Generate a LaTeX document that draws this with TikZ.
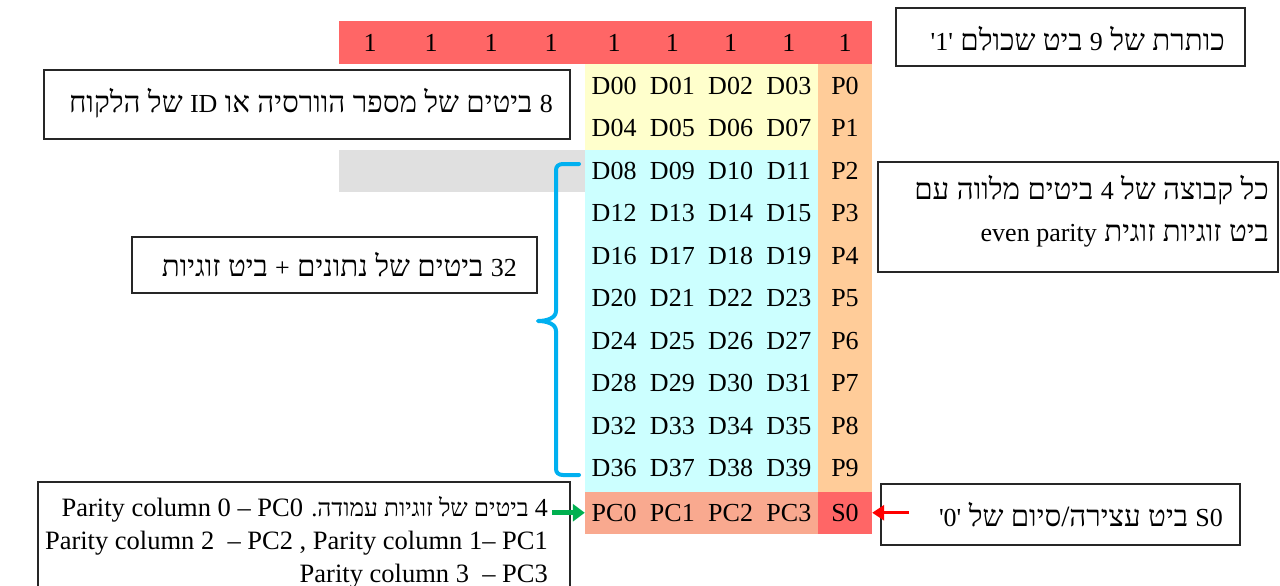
\documentclass[tikz,border=0pt]{standalone}
\usepackage{fontspec}
\setmainfont{Liberation Serif}
\newfontfamily\heb[Script=Hebrew]{Liberation Serif}
\newfontfamily\latf{Liberation Serif}
\TeXXeTstate=1
\usetikzlibrary{arrows.meta}
\definecolor{hdrred}{HTML}{FF6666}
\definecolor{yel}{HTML}{FFFFCC}
\definecolor{cyn}{HTML}{CCFFFF}
\definecolor{org}{HTML}{FFCC99}
\definecolor{gry}{HTML}{E0E0E0}
\definecolor{pcc}{HTML}{F9A98F}
\definecolor{brc}{HTML}{00B0F0}
\definecolor{grn}{HTML}{00B050}
\newcommand\lat[1]{\beginL{\latf\fontsize{26}{30}\selectfont #1}\endL}
\newcommand\hebt{\heb\fontsize{29.5}{34}\selectfont}
\tikzset{
  txt/.style={inner sep=0pt, font=\fontsize{26}{30}\selectfont},
  cell/.style={inner sep=0pt, minimum width=58.25pt, minimum height=42.5pt, font=\fontsize{26}{30}\selectfont},
  box/.style={draw=black!85, line width=1.3pt, fill=white, inner sep=0pt},
  brace/.style={draw=brc, line width=4pt, line cap=round, line join=round},
  redarrow/.style={draw=red, line width=3pt, -{Triangle[length=12pt,width=15pt]}},
  grnarrow/.style={draw=grn, line width=5pt, -{Triangle[length=12pt,width=17pt]}},
}
\begin{document}
\begin{tikzpicture}[x=1pt,y=-1pt]
\useasboundingbox (0,0) rectangle (1280,586);
\clip (0,0) rectangle (1280,586);
% backgrounds
\fill[hdrred] (339,21) rectangle (872,64.5);
\fill[yel] (585,64.5) rectangle (818,149.5);
\fill[cyn] (585,149.5) rectangle (818,491.5);
\fill[org] (818,64.5) rectangle (872,491.5);
\fill[gry] (339,149.5) rectangle (585,192);
\fill[pcc] (585,491.5) rectangle (818,534);
\fill[hdrred] (818,491.5) rectangle (872,534);
% header ones
\foreach \x [count=\i] in {370,431,491,551,614.125,672.375,730.625,788.875,845}
  \node[cell, minimum width=54pt] (h\i) at (\x,42.75) {1};
% data rows
\foreach \a/\b/\c/\d [count=\i from 0] in {00/01/02/03,04/05/06/07,08/09/10/11,12/13/14/15,16/17/18/19,20/21/22/23,24/25/26/27,28/29/30/31,32/33/34/35,36/37/38/39}{
  \node[cell] (d\a) at (614.125,85.75+42.5*\i) {D\a};
  \node[cell] (d\b) at (672.375,85.75+42.5*\i) {D\b};
  \node[cell] (d\c) at (730.625,85.75+42.5*\i) {D\c};
  \node[cell] (d\d) at (788.875,85.75+42.5*\i) {D\d};
  \node[cell, minimum width=54pt] (p\i) at (845,85.75+42.5*\i) {P\i};
}
\foreach \k in {0,1,2,3}
  \node[cell] (pc\k) at (614.125+58.25*\k,512.75) {PC\k};
\node[cell, minimum width=54pt] (s0) at (845,512.75) {S0};
% brace
\coordinate (bt) at (579,164);
\coordinate (bb) at (579,475);
\draw[brace] (bt) -- (563,164) .. controls (559,164) and (556,166) .. (556,170) -- (556,311)
  .. controls (556,318) and (547,321) .. (538,321) .. controls (547,321) and (556,324) .. (556,331)
  -- (556,469) .. controls (556,473) and (559,475) .. (563,475) -- (bb);
% boxes
\node[box, minimum width=349pt, minimum height=58pt] (hdrbox) at (1070.5,37) {};
\node[box, minimum width=526pt, minimum height=69pt] (idbox) at (307,104.5) {};
\node[box, minimum width=400pt, minimum height=110pt] (parbox) at (1078,217) {};
\node[box, minimum width=405pt, minimum height=56pt] (databox) at (334.5,265) {};
\node[box, minimum width=532pt, minimum height=118pt] (pcbox) at (304,541) {};
\node[box, minimum width=359pt, minimum height=61pt] (s0box) at (1060.5,514.5) {};
% texts
\node[txt, anchor=base east] (thdr) at (1225,51) {\hebt\beginR כותרת של \lat{9} ביט שכולם \lat{'1'}\endR};
\node[txt, anchor=base east] (tid) at (553,112) {\hebt\beginR \lat{8} ביטים של מספר הוורסיה או \lat{ID} של הלקוח\endR};
\node[txt, anchor=base east] (tpar1) at (1269,199) {\hebt\beginR כל קבוצה של \lat{4} ביטים מלווה עם\endR};
\node[txt, anchor=base east] (tpar2) at (1269,241) {\hebt\beginR ביט זוגיות זוגית \lat{even parity}\endR};
\node[txt, anchor=base east] (tdata) at (517,276) {\hebt\beginR \lat{32} ביטים של נתונים \lat{+} ביט זוגיות\endR};
\node[txt, anchor=base east] (tpc1) at (548,516) {\heb\fontsize{24.5}{30}\selectfont\beginR \lat{4} ביטים של זוגיות עמודה. \beginL{\latf\fontsize{26.5}{30}\selectfont Parity column 0 – PC0}\endL\endR};
\node[txt, anchor=base east, font=\fontsize{26.5}{30}\selectfont] (tpc2) at (548,549) {Parity column 2\ \ – PC2 , Parity column 1– PC1};
\node[txt, anchor=base east, font=\fontsize{26.5}{30}\selectfont] (tpc3) at (548,582) {Parity column 3\ \ – PC3};
\node[txt, anchor=base east] (ts0) at (1223,526) {\hebt\beginR\lat{S0} ביט עצירה/סיום של \lat{'0'}\endR};
% arrows
\coordinate (gstart) at (552,512.75);
\coordinate (rstart) at (909,512.75);
\draw[grnarrow] (gstart) -- (pc0.west);
\draw[redarrow] (rstart) -- (s0.east);
\end{tikzpicture}
\end{document}
